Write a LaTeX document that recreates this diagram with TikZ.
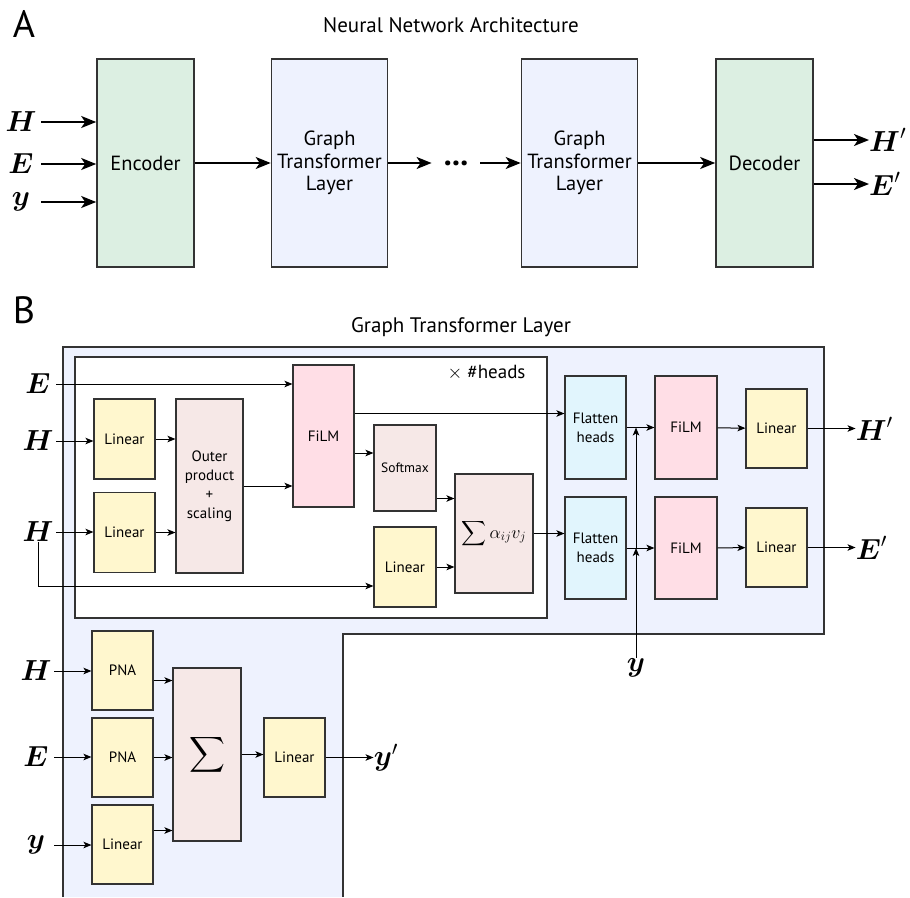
\documentclass[tikz,border=0pt]{standalone}
\usepackage{fix-cm}
\usepackage{amsmath}
\usepackage{fontspec}
\setmainfont{PT Sans}
\usetikzlibrary{arrows.meta,positioning}

\definecolor{boxgray}{HTML}{333333}
\definecolor{encgreen}{HTML}{DCEFE2}
\definecolor{layerblue}{HTML}{EEF2FE}
\definecolor{linyellow}{HTML}{FFF7CE}
\definecolor{mixpink}{HTML}{F6E8E7}
\definecolor{filmpink}{HTML}{FFDEE6}
\definecolor{flatcyan}{HTML}{E1F5FD}

\begin{document}
\begin{tikzpicture}[x=1pt, y=-1pt,
	bigbox/.style={draw=boxgray, line width=1.6pt, align=center, inner sep=1pt,
		minimum height=208pt, font=\fontsize{20.5}{22.5}\selectfont},
	blk/.style={draw=boxgray, line width=1.1pt, align=center, inner sep=1pt,
		minimum width=61pt, minimum height=80pt, font=\fontsize{15}{19}\selectfont},
	inA/.style={minimum width=40pt, inner sep=0pt, font=\fontsize{29}{30}\selectfont},
	inB/.style={minimum width=36pt, inner sep=0pt, font=\fontsize{29}{30}\selectfont},
	outlab/.style={anchor=west, inner sep=0pt, font=\fontsize{29}{30}\selectfont},
	bigarr/.style={-{Stealth[length=15pt,width=12pt,inset=4pt]}, line width=1.8pt},
	arr/.style={-{Stealth[length=8pt,width=6.5pt,inset=2pt]}, line width=1pt},
]
\useasboundingbox (0,0) rectangle (910,897);

% Panel A: the whole network
\node[font=\fontsize{38}{40}\selectfont] (labA) at (24,24) {A};
\node[font=\fontsize{21}{24}\selectfont] (titA) at (451,25) {Neural Network Architecture};

\node[bigbox, fill=encgreen, minimum width=97pt] (enc) at (145.5,163) {Encoder};
\node[bigbox, fill=layerblue, minimum width=116pt] (gtA) at (329.5,163) {Graph\\Transformer\\Layer};
\node[font=\bfseries\fontsize{32}{32}\selectfont, inner xsep=12pt, inner ysep=2pt] (dots) at (456,163) {...};
\node[bigbox, fill=layerblue, minimum width=116pt] (gtB) at (579.5,163) {Graph\\Transformer\\Layer};
\node[bigbox, fill=encgreen, minimum width=97pt] (dec) at (764.5,163) {Decoder};

\node[inA] (aH) at (21,122) {$\boldsymbol{H}$};
\node[inA] (aE) at (21,164) {$\boldsymbol{E}$};
\node[inA] (ay) at (21,202) {$\boldsymbol{y}$};
\node[outlab] (aHo) at (869,140) {$\boldsymbol{H}'$};
\node[outlab] (aEo) at (869,184) {$\boldsymbol{E}'$};

\foreach \n in {aH,aE,ay}
	\draw[bigarr] (\n) -- (\n -| enc.west);
\draw[bigarr] (enc) -- (gtA);
\draw[bigarr] (gtA.east) -- (gtA.east -| dots.west);
\draw[bigarr] (gtB.west -| dots.east) -- (gtB.west);
\draw[bigarr] (gtB) -- (dec);
\foreach \n in {aHo,aEo}
	\draw[bigarr] (\n -| dec.east) -- (\n.west);

% Panel B: one graph transformer layer
\node[font=\fontsize{38}{40}\selectfont] (labB) at (24,310) {B};
\node[font=\fontsize{21}{24}\selectfont] (titB) at (461,327) {Graph Transformer Layer};

\fill[layerblue] (63,347) -- (824,347) -- (824,634) -- (343,634) -- (343,897) -- (63,897) -- cycle;
\draw[boxgray, line width=1.2pt] (63,897) -- (63,347) -- (824,347) -- (824,634) -- (343,634) -- (343,897);
\draw[boxgray, line width=1.2pt, fill=white] (75,357) rectangle (547,618);
\node[anchor=east, font=\fontsize{19}{22}\selectfont] (heads) at (529,373) {$\times$ \#heads};

% attention heads
\node[blk, fill=linyellow] (lin1) at (124.5,439) {Linear};
\node[blk, fill=linyellow] (lin2) at (124.5,532.5) {Linear};
\node[blk, fill=mixpink, minimum width=67pt, minimum height=174pt] (outer) at (209.5,486) {Outer\\product\\+\\scaling};
\node[blk, fill=filmpink, minimum height=142pt] (film) at (323.5,436) {FiLM};
\node[blk, fill=mixpink, minimum width=62pt, minimum height=86pt, font=\fontsize{13.5}{16}\selectfont] (soft) at (405,468) {Softmax};
\node[blk, fill=linyellow, minimum width=62pt] (lin3) at (405,567) {Linear};
\node[blk, fill=mixpink, minimum width=78pt, minimum height=119pt, font=\fontsize{18}{20}\selectfont] (attn) at (494,533.5) {$\displaystyle\sum\alpha_{ij}v_j$};

% heads merged
\node[blk, fill=flatcyan, minimum height=103pt] (flat1) at (595.5,427.5) {Flatten\\heads};
\node[blk, fill=flatcyan, minimum height=102pt] (flat2) at (595.5,548) {Flatten\\heads};
\node[blk, fill=filmpink, minimum width=62pt, minimum height=103pt] (filmH) at (686,427.5) {FiLM};
\node[blk, fill=filmpink, minimum width=62pt, minimum height=102pt] (filmE) at (686,548) {FiLM};
\node[blk, fill=linyellow, minimum height=79pt] (linH) at (776.5,428.5) {Linear};
\node[blk, fill=linyellow, minimum height=79pt] (linE) at (776.5,547.5) {Linear};

% global features
\node[blk, fill=linyellow, minimum height=79pt] (pnaH) at (122.5,670.5) {PNA};
\node[blk, fill=linyellow, minimum height=79pt] (pnaE) at (122.5,757.5) {PNA};
\node[blk, fill=linyellow, minimum height=79pt] (liny) at (122.5,844.5) {Linear};
\node[blk, fill=mixpink, minimum width=68pt, minimum height=173pt, font=\fontsize{27}{28}\selectfont] (sum) at (207,754.5) {$\displaystyle\sum$};
\node[blk, fill=linyellow, minimum height=79pt] (linout) at (294.5,757.5) {Linear};

% inputs and outputs
\node[inB] (bE) at (38,384) {$\boldsymbol{E}$};
\node[inB] (bH1) at (38,441) {$\boldsymbol{H}$};
\node[inB] (bH2) at (38,532) {$\boldsymbol{H}$};
\node[inB] (cH) at (36,671) {$\boldsymbol{H}$};
\node[inB] (cE) at (36,757) {$\boldsymbol{E}$};
\node[inB] (cy) at (36,845) {$\boldsymbol{y}$};
\node[outlab, right=48pt of linH] (bHo) {$\boldsymbol{H}'$};
\node[outlab, right=48pt of linE] (bEo) {$\boldsymbol{E}'$};
\node[outlab, right=48pt of linout] (cyo) {$\boldsymbol{y}'$};
\node[inner sep=1pt, font=\fontsize{29}{30}\selectfont] (by) at (636,668) {$\boldsymbol{y}$};

\coordinate (s1) at ([yshift=14pt]flat1.west);
\coordinate (s2) at ([yshift=15pt]soft.west);
\coordinate (s3) at ([yshift=35pt]attn.west);
\coordinate (s4) at ([yshift=-19pt]lin3.west);
\coordinate (p1) at ([yshift=-10pt]pnaH.east);
\coordinate (p3) at ([yshift=14pt]liny.east);

\draw[arr] (bE) -- (bE -| film.west);
\draw[arr] (bH1) -- (bH1 -| lin1.west);
\draw[arr] (bH2) -- (bH2 -| lin2.west);
\draw[arr] (bH2.south) |- (s4);
\draw[arr] (lin1.east) -- (lin1.east -| outer.west);
\draw[arr] (lin2.east) -- (lin2.east -| outer.west);
\draw[arr] (outer.east) -- (outer.east -| film.west);
\draw[arr] (s2 -| film.east) -- (s2);
\draw[arr] (s1 -| film.east) -- (s1);
\draw[arr] (s3 -| soft.east) -- (s3);
\draw[arr] (lin3.east) -- (lin3.east -| attn.west);
\draw[arr] (attn.east) -- (attn.east -| flat2.west);
\draw[arr] (flat1) -- (filmH);
\draw[arr] (flat2) -- (filmE);
\draw[arr] (filmH) -- (linH);
\draw[arr] (filmE) -- (linE);
\draw[arr] (linH) -- (bHo);
\draw[arr] (linE) -- (bEo);
\draw[arr] (by) -- (by |- flat2.east);
\draw[arr] (by |- flat2.east) -- (by |- flat1.east);

\draw[arr] (cH) -- (cH -| pnaH.west);
\draw[arr] (cE) -- (cE -| pnaE.west);
\draw[arr] (cy) -- (cy -| liny.west);
\draw[arr] (p1) -- (p1 -| sum.west);
\draw[arr] (pnaE.east) -- (pnaE.east -| sum.west);
\draw[arr] (p3) -- (p3 -| sum.west);
\draw[arr] (sum.east) -- (sum.east -| linout.west);
\draw[arr] (linout) -- (cyo);
\end{tikzpicture}
\end{document}
